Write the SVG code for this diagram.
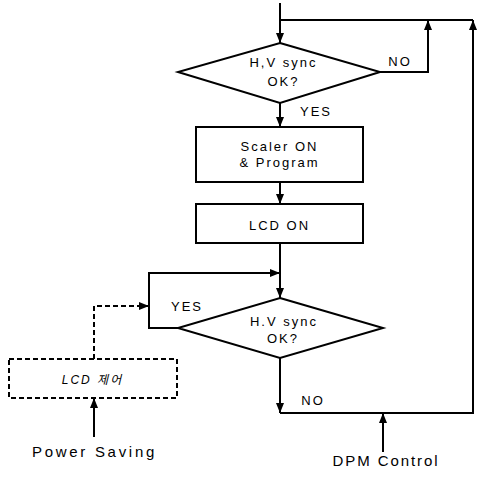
<svg xmlns="http://www.w3.org/2000/svg" width="477" height="478" viewBox="0 0 477 478">
<defs>
<marker id="arr" markerUnits="userSpaceOnUse" markerWidth="11" markerHeight="9" refX="10" refY="4" orient="auto">
<path d="M0,0 L10,4 L0,8 z" fill="#000"/>
</marker>
<style>
.shape{fill:#fff;stroke:#000;stroke-width:2}
.dash{fill:#fff;stroke:#000;stroke-width:2;stroke-dasharray:5,3}
.ln{fill:none;stroke:#000;stroke-width:2}
.dl{fill:none;stroke:#000;stroke-width:2;stroke-dasharray:5,3}
.t{font-family:"Liberation Sans",Arial,sans-serif;font-size:13px;letter-spacing:2px;fill:#000;text-anchor:middle}
.lbl{font-family:"Liberation Sans",Arial,sans-serif;font-size:13px;letter-spacing:2px;fill:#000;text-anchor:middle}
.big{font-family:"Liberation Sans",Arial,sans-serif;font-size:15px;fill:#000;text-anchor:middle}
.kr{font-family:"Liberation Sans","Noto Sans CJK KR",sans-serif;font-size:12px;font-style:italic;letter-spacing:2px;fill:#000;text-anchor:middle}
</style>
</defs>
<rect width="477" height="478" fill="#fff"/>
<g id="connectors">
<line class="ln" x1="280" y1="3" x2="280" y2="43" marker-end="url(#arr)"/>
<line class="ln" x1="280" y1="20" x2="473" y2="20"/>
<polyline class="ln" points="380,72 428,72 428,20" marker-end="url(#arr)"/>
<line class="ln" x1="280" y1="103" x2="280" y2="127" marker-end="url(#arr)"/>
<line class="ln" x1="280" y1="182" x2="280" y2="204" marker-end="url(#arr)"/>
<line class="ln" x1="280" y1="243" x2="280" y2="298" marker-end="url(#arr)"/>
<polyline class="ln" points="178,328 149,328 149,273 280,273" marker-end="url(#arr)"/>
<line class="ln" x1="280" y1="358" x2="280" y2="413" marker-end="url(#arr)"/>
<polyline class="ln" points="280,413 473,413 473,20" marker-end="url(#arr)"/>
<polyline class="dl" points="94,359 94,306 149,306" marker-end="url(#arr)"/>
<line class="ln" x1="94" y1="437" x2="94" y2="398" marker-end="url(#arr)"/>
<line class="ln" x1="383" y1="452" x2="383" y2="413" marker-end="url(#arr)"/>
<text class="lbl" x="400" y="66">NO</text>
<text class="lbl" x="316" y="116">YES</text>
<text class="lbl" x="187" y="311">YES</text>
<text class="lbl" x="313" y="405">NO</text>
</g>
<g id="decision1">
<polygon class="shape" points="280,43 380,72 280,103 178,72"/>
<text class="t" x="283.5" y="67">H,V sync</text>
<text class="t" x="283.5" y="86">OK?</text>
</g>
<g id="scaler">
<rect class="shape" x="196" y="127" width="167" height="55"/>
<text class="t" x="279.5" y="151">Scaler ON</text>
<text class="t" x="279.5" y="167">&amp; Program</text>
</g>
<g id="lcdon">
<rect class="shape" x="196" y="204" width="167" height="39"/>
<text class="t" x="279.5" y="230">LCD ON</text>
</g>
<g id="decision2">
<polygon class="shape" points="280,298 383,328 280,358 178,328"/>
<text class="t" x="284" y="326">H.V sync</text>
<text class="t" x="283" y="343">OK?</text>
</g>
<g id="lcdctrl">
<rect class="dash" x="9" y="359" width="168" height="39"/>
<text class="kr" x="92.5" y="384">LCD 제어</text>
</g>
<g id="powersaving">
<text class="big" x="94.5" y="457" style="letter-spacing:2.7px">Power Saving</text>
</g>
<g id="dpmcontrol">
<text class="big" x="386" y="466" style="letter-spacing:1.9px">DPM Control</text>
</g>
</svg>
